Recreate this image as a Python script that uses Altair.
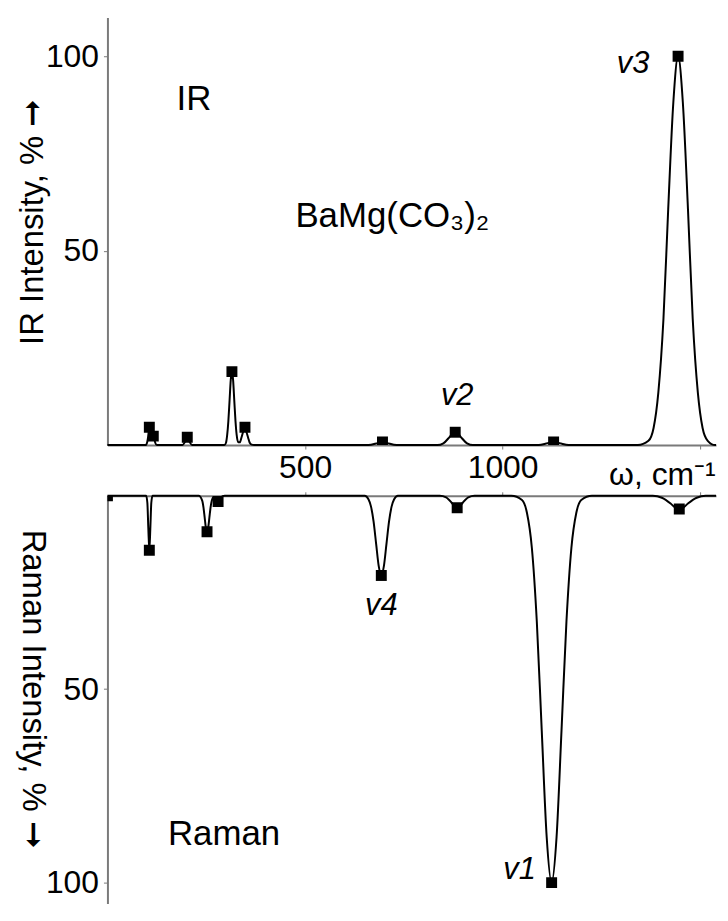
import altair as alt
import pandas as pd

# ---- data ----
ir_peak_w = [106, 116, 202, 315, 348, 696, 880, 1129, 1444]
ir_peak_i = [4.6, 2.3, 2.0, 18.9, 4.6, 0.8, 3.3, 0.8, 100]

raman_peak_w = [0, 106, 252, 280, 693, 885, 1124, 1447]
raman_peak_i = [0, 14.1, 9.3, 1.5, 20.6, 3.1, 100, 3.4]

ir_curve_w = [0, 97, 101, 104, 106, 109, 112, 114, 116, 118, 121, 125,
              190, 196, 202, 208, 214,
              296, 300, 303, 306, 309, 312, 315, 318, 321, 324, 327, 331, 335,
              339, 343, 348, 352, 356, 360, 365, 371,
              660, 684, 696, 708, 732,
              835, 850, 865, 873, 880, 887, 895, 910, 925,
              1091, 1114, 1129, 1144, 1167,
              1342, 1369, 1382, 1394, 1407, 1419, 1432, 1444, 1456, 1469, 1481,
              1494, 1506, 1519, 1538, 1540]
ir_curve_i = [0, 0, 0.9, 2.8, 4.2, 2.6, 1.9, 2.2, 2.3, 1.8, 0.6, 0,
              0, 0.8, 2.0, 0.8, 0,
              0, 0.6, 2.6, 6.2, 11.4, 16.7, 18.9, 16.7, 11.4, 6.2, 2.6, 0.7, 0.7,
              1.9, 3.3, 4.6, 3.3, 1.9, 0.6, 0.1, 0,
              0, 0.5, 0.8, 0.5, 0,
              0, 0.45, 2.0, 3.0, 3.3, 3.0, 2.0, 0.45, 0,
              0, 0.5, 0.8, 0.5, 0,
              0, 1.1, 4.4, 13.5, 32.5, 60.7, 88.2, 100, 88.2, 60.7, 32.5,
              13.5, 4.4, 1.1, 0, 0]

raman_curve_w = [0, 98, 101, 103.5, 106, 108.5, 111, 114,
                 231, 240, 243, 246, 249, 252, 255, 258, 261, 264, 269, 275, 280,
                 285, 291, 297,
                 651, 660.5, 667, 673.5, 680, 686.5, 693, 699.5, 706, 712.5, 719,
                 725.5, 735,
                 841, 857, 871, 878, 885, 892, 899, 913, 929,
                 1022, 1049, 1061.5, 1074, 1086.5, 1099, 1111.5, 1124, 1136.5,
                 1149, 1161.5, 1174, 1186.5, 1199, 1226,
                 1380, 1403, 1425, 1436, 1447, 1458, 1469, 1491, 1514, 1540]
raman_curve_i = [0, 0, 1.8, 8.5, 14.1, 8.5, 1.8, 0,
                 0, 1.3, 3.0, 5.6, 8.2, 9.3, 8.2, 5.6, 3.0, 1.3, 0.3, 0.9, 1.5,
                 0.9, 0.1, 0,
                 0, 0.9, 2.8, 6.7, 12.5, 18.2, 20.6, 18.2, 12.5, 6.7, 2.8,
                 0.9, 0,
                 0, 0.4, 1.8, 2.7, 3.1, 2.7, 1.8, 0.4, 0,
                 0, 1.1, 4.4, 13.5, 32.5, 60.7, 88.2, 100, 88.2,
                 60.7, 32.5, 13.5, 4.4, 1.1, 0,
                 0, 0.5, 2.0, 3.0, 3.4, 3.0, 2.0, 0.5, 0, 0]

ir_notes = ["IR", "BaMg(CO\u2083)\u2082"]
ir_notes_w = [219, 721]
ir_notes_i = [89, 59]
ir_modes = ["v3", "v2"]
ir_modes_w = [1330, 885]
ir_modes_i = [98, 12.5]

raman_notes = ["Raman"]
raman_notes_w = [295]
raman_notes_i = [87.4]
raman_modes = ["v4", "v1"]
raman_modes_w = [693, 1043]
raman_modes_i = [28.5, 96.7]

FONT = "Liberation Sans"
W = 612

ir_curve = pd.DataFrame({"w": ir_curve_w, "i": ir_curve_i})
ir_pk = pd.DataFrame({"w": ir_peak_w, "i": ir_peak_i})
ir_nt = pd.DataFrame({"w": ir_notes_w, "i": ir_notes_i, "t": ir_notes})
ir_md = pd.DataFrame({"w": ir_modes_w, "i": ir_modes_i, "t": ir_modes})

ra_curve = pd.DataFrame({"w": raman_curve_w, "i": raman_curve_i})
ra_pk = pd.DataFrame({"w": raman_peak_w, "i": raman_peak_i})
ra_nt = pd.DataFrame({"w": raman_notes_w, "i": raman_notes_i, "t": raman_notes})
ra_md = pd.DataFrame({"w": raman_modes_w, "i": raman_modes_i, "t": raman_modes})

axis_common = dict(domainColor="#7a7a7a", domainWidth=2, tickColor="#7a7a7a",
                   tickWidth=1, tickSize=4, grid=False, labelFont=FONT,
                   labelFontSize=32, labelColor="black", titleFont=FONT,
                   titleFontWeight="normal", titleColor="black",
                   format="d")

x_top = alt.X("w:Q", scale=alt.Scale(domain=[0, 1540], nice=False, zero=False),
              axis=alt.Axis(values=[500, 1000, 1500], orient="bottom",
                            labelExpr="datum.value == 1500 ? '' : datum.label",
                            labelPadding=4, title="\u03c9, cm\u207b\u00b9",
                            titleX=504, titleY=40, titleAlign="left",
                            titleFontSize=32,
                            titleBaseline="alphabetic", **axis_common))
y_top = alt.Y("i:Q", scale=alt.Scale(domain=[0, 110], nice=False),
              axis=alt.Axis(values=[50, 100], labelPadding=5,
                            title="IR Intensity, %  \u279e", titleAngle=-90,
                            titleX=-75, titleY=205, titleAlign="center",
                            titleFontSize=33,
                            titleBaseline="middle", **axis_common))

x_bot = alt.X("w:Q", scale=alt.Scale(domain=[0, 1540], nice=False, zero=False),
              axis=alt.Axis(values=[500, 1000, 1500], orient="top",
                            labels=False, title=None, **axis_common))
y_bot = alt.Y("i:Q", scale=alt.Scale(domain=[0, 105.4], nice=False, reverse=True),
              axis=alt.Axis(values=[50, 100], labelPadding=5,
                            title="Raman Intensity, %  \u279e", titleAngle=90,
                            titleX=-75, titleY=194, titleAlign="center",
                            titleFontSize=33,
                            titleBaseline="middle", **axis_common))

def panel(curve, pk, nt, md, x, y, h):
    line = alt.Chart(curve).mark_line(interpolate="monotone", color="black",
                                      strokeWidth=2).encode(x=x, y=y)
    pts = alt.Chart(pk).mark_square(size=121, color="black", opacity=1,
                                    clip=True).encode(x=x, y=y)
    notes = alt.Chart(nt).mark_text(font=FONT, fontSize=35, color="black",
                                    align="center", baseline="middle").encode(
        x=x, y=y, text="t:N")
    modes = alt.Chart(md).mark_text(font=FONT, fontSize=31, fontStyle="italic",
                                    color="black", align="center",
                                    baseline="middle").encode(x=x, y=y, text="t:N")
    return alt.layer(line, pts, notes, modes).properties(width=W, height=h)

top = panel(ir_curve, ir_pk, ir_nt, ir_md, x_top, y_top, 430)
bot = panel(ra_curve, ra_pk, ra_nt, ra_md, x_bot, y_bot, 410)

chart = alt.vconcat(top, bot, spacing=51, bounds="flush").properties(
    padding={"left": 7, "top": 7, "right": 0, "bottom": 0}
).configure_view(stroke=None)

chart.save("out.html", embed_options={"renderer": "svg", "actions": False})
